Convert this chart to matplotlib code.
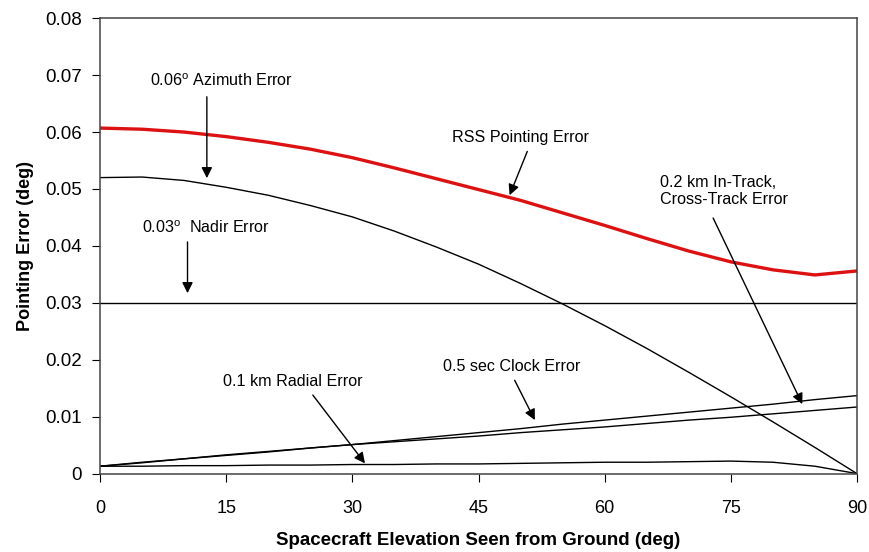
import matplotlib
matplotlib.use('Agg')
import matplotlib.pyplot as plt

plt.rcParams['font.family'] = ['Liberation Sans', 'DejaVu Sans']
plt.rcParams['mathtext.fontset'] = 'custom'
plt.rcParams['mathtext.rm'] = 'Liberation Sans'

# elevation (deg)
elev = [0, 5, 10, 15, 20, 25, 30, 35, 40, 45, 50, 55, 60, 65, 70, 75, 80, 85, 90]

# error components (deg)
rss = [0.0607, 0.0605, 0.0600, 0.0592, 0.0582, 0.0570, 0.0555, 0.0537, 0.0518, 0.0499,
       0.0480, 0.0458, 0.0436, 0.0413, 0.0391, 0.0372, 0.0358, 0.0349, 0.0356]
azimuth = [0.0520, 0.0521, 0.0515, 0.0503, 0.0489, 0.0471, 0.0451, 0.0426, 0.0398, 0.0368,
           0.0334, 0.0298, 0.0260, 0.0220, 0.0178, 0.0135, 0.0091, 0.0046, 0.0]
nadir = [0.030] * len(elev)
clock = [0.0013, 0.0019, 0.0026, 0.0032, 0.0038, 0.0045, 0.0051, 0.0058, 0.0065, 0.0072,
         0.0079, 0.0087, 0.0094, 0.0101, 0.0108, 0.0115, 0.0122, 0.0130, 0.0137]
intrack = [0.0013, 0.0020, 0.0026, 0.0033, 0.0039, 0.0045, 0.0051, 0.0056, 0.0061, 0.0066,
           0.0072, 0.0077, 0.0082, 0.0088, 0.0094, 0.0099, 0.0105, 0.0111, 0.0117]
radial = [0.0013, 0.0013, 0.0014, 0.0014, 0.0015, 0.0015, 0.0016, 0.0016, 0.0017, 0.0017,
          0.0018, 0.0019, 0.0020, 0.0020, 0.0021, 0.0022, 0.0020, 0.0013, 0.0]

xticks = [0, 15, 30, 45, 60, 75, 90]
yticks = [0, 0.01, 0.02, 0.03, 0.04, 0.05, 0.06, 0.07, 0.08]
ylabels = ['0', '0.01', '0.02', '0.03', '0.04', '0.05', '0.06', '0.07', '0.08']

fig = plt.figure(figsize=(8.7, 5.52), dpi=100)
ax = fig.add_axes([0.115, 0.142, 0.870, 0.825])

ax.plot(elev, rss, color='#dd1111', lw=2.4)
for s in (azimuth, nadir, clock, intrack, radial):
    ax.plot(elev, s, color='k', lw=1.0)

ax.set_xlim(0, 90)
ax.set_ylim(0, 0.08)
ax.set_xticks(xticks)
ax.set_yticks(yticks)
ax.set_yticklabels(ylabels)
ax.tick_params(axis='x', direction='out', length=6, pad=13, labelsize=13)
ax.tick_params(axis='y', direction='out', length=6, pad=7, labelsize=13.5)
for sp in ax.spines.values():
    sp.set_color('#444444')
    sp.set_linewidth(1.1)

ax.set_xlabel('Spacecraft Elevation Seen from Ground (deg)', fontsize=13.5, fontweight='bold', labelpad=11)
ax.set_ylabel('Pointing Error (deg)', fontsize=13, fontweight='bold', labelpad=8)

# labels + arrows
fs = 11.6
ax.text(14.4, 0.0690, r'0.06$^\mathrm{o}$ Azimuth Error', fontsize=fs, ha='center', va='center')
ax.text(12.6, 0.0432, r'0.03$^\mathrm{o}$  Nadir Error', fontsize=fs, ha='center', va='center')
ax.text(50.0, 0.0590, 'RSS Pointing Error', fontsize=fs, ha='center', va='center')
ax.text(66.6, 0.0497, '0.2 km In-Track,\nCross-Track Error', fontsize=fs, ha='left', va='center',
        linespacing=1.15)
ax.text(49.0, 0.0188, '0.5 sec Clock Error', fontsize=fs, ha='center', va='center')
ax.text(22.9, 0.0161, '0.1 km Radial Error', fontsize=fs, ha='center', va='center')

arrows = [
    ((12.7, 0.0662), (12.7, 0.0519)),
    ((10.4, 0.0407), (10.4, 0.0317)),
    ((50.8, 0.0566), (48.7, 0.0489)),
    ((72.9, 0.0449), (83.5, 0.0122)),
    ((49.3, 0.0164), (51.7, 0.0094)),
    ((25.3, 0.0138), (31.5, 0.0018)),
]
for start, tip in arrows:
    ax.annotate('', xy=tip, xytext=start,
                arrowprops=dict(arrowstyle='-|>', color='k', lw=1.0, mutation_scale=16,
                                shrinkA=0, shrinkB=0))

fig.savefig('out.png', dpi=100)
